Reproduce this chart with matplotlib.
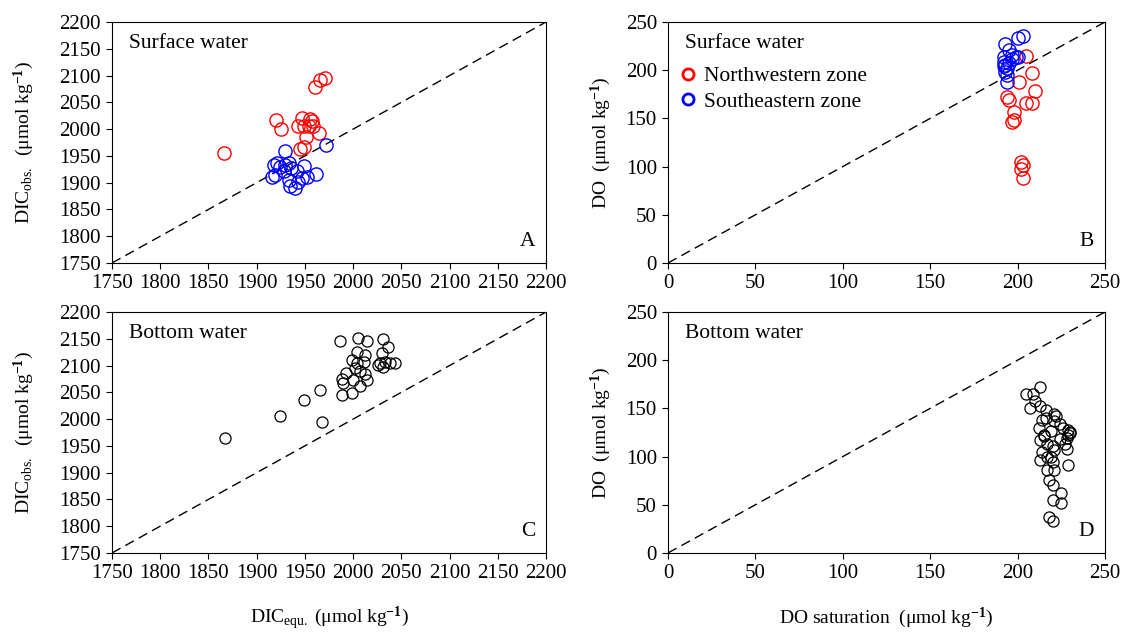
import matplotlib
matplotlib.use("Agg")
import matplotlib.pyplot as plt

plt.rcParams['font.family'] = ['Liberation Serif', 'DejaVu Serif']
plt.rcParams['mathtext.fontset'] = 'custom'
plt.rcParams['mathtext.rm'] = 'Liberation Serif'
plt.rcParams['mathtext.it'] = 'Liberation Serif:italic'
plt.rcParams['mathtext.bf'] = 'Liberation Serif:bold'

# panel A - surface DIC
nw_dic_equ = [1866, 1920, 1925, 1971, 1966, 1960, 1947, 1955, 1957, 1943, 1949, 1954, 1958, 1965, 1951, 1949, 1945]
nw_dic_obs = [1955, 2017, 2000, 2095, 2091, 2079, 2020, 2019, 2016, 2006, 2006, 2006, 2006, 1992, 1985, 1967, 1963]
se_dic_equ = [1929, 1972, 1949, 1961, 1918, 1921, 1924, 1929, 1933, 1919, 1928, 1936, 1942, 1947, 1933, 1935, 1940, 1943, 1916, 1952]
se_dic_obs = [1960, 1971, 1932, 1916, 1933, 1936, 1930, 1933, 1937, 1914, 1921, 1927, 1921, 1908, 1905, 1893, 1890, 1902, 1910, 1911]

# panel B - surface DO
nw_do_sat = [205, 201, 208, 210, 194, 195, 205, 208, 198, 198, 197, 202, 203, 202, 203]
nw_do = [215, 188, 197, 178, 172, 169, 166, 166, 157, 148, 146, 105, 102, 98, 88]
se_do_sat = [193, 200, 203, 195, 192, 197, 199, 200, 192, 193, 194, 192, 195, 193, 194, 194, 197]
se_do = [227, 233, 235, 221, 214, 216, 214, 214, 209, 205, 202, 204, 207, 198, 195, 188, 212]

# panel C - bottom DIC
bot_dic_equ = [1867, 1924, 1949, 1966, 1968, 1986, 2005, 2014, 2031, 2036, 2004, 2012, 2030, 1999, 2004,
               2011, 2028, 2033, 2038, 2043, 2026, 2031, 2002, 1993, 2007, 2012, 1988, 2000, 2014, 1990,
               2007, 1999, 1988]
bot_dic_obs = [1964, 2006, 2036, 2054, 1995, 2145, 2152, 2145, 2150, 2135, 2126, 2120, 2123, 2110, 2105,
               2107, 2104, 2107, 2105, 2105, 2101, 2098, 2095, 2086, 2089, 2084, 2074, 2073, 2073, 2067,
               2061, 2049, 2045]

# panel D - bottom DO
bot_do_sat = [213, 209, 205, 207, 213, 216, 221, 214, 221, 224, 219, 215, 213, 217, 229, 230, 230, 229, 228,
              227, 228, 220, 221, 214, 213, 217, 220, 221, 229, 217, 218, 220, 225, 225, 220, 218, 220, 212,
              216, 222, 226, 210, 215, 224, 219]
bot_do = [172, 165, 165, 150, 152, 148, 144, 138, 137, 134, 127, 121, 117, 113, 128, 126, 124, 122, 119,
          113, 108, 111, 107, 105, 96, 100, 94, 86, 91, 86, 76, 70, 62, 52, 55, 37, 33, 130, 140, 142,
          130, 158, 122, 118, 100]

fig = plt.figure(figsize=(11.21, 6.34), dpi=100)
axA = fig.add_axes([0.0999, 0.5852, 0.3872, 0.3801])
axB = fig.add_axes([0.5959, 0.5852, 0.3898, 0.3801])
axC = fig.add_axes([0.0999, 0.1278, 0.3872, 0.3801])
axD = fig.add_axes([0.5959, 0.1278, 0.3898, 0.3801])

fs = 15.5
tick_fs = 15
lab_fs = 14
ylab_dic = r'DIC$_{\mathrm{obs.}}$  ($\mathrm{\mu}$mol kg$^{\mathbf{-1}}$)'
ylab_do = r'DO  ($\mathrm{\mu}$mol kg$^{\mathbf{-1}}$)'

def style(ax, lo, hi, step):
    ax.plot([lo, hi], [lo, hi], color='black', lw=1, dashes=(7, 4))
    ax.set_xlim(lo, hi)
    ax.set_ylim(lo, hi)
    ax.set_xticks(range(lo, hi + 1, step))
    ax.set_yticks(range(lo, hi + 1, step))
    ax.tick_params(direction='out', length=4, pad=4, labelsize=tick_fs, top=False, right=False)
    for s in ax.spines.values():
        s.set_linewidth(0.8)

for ax in (axA, axC):
    style(ax, 1750, 2200, 50)
    ax.set_ylabel(ylab_dic, fontsize=lab_fs, labelpad=17)
for ax in (axB, axD):
    style(ax, 0, 250, 50)
    ax.set_ylabel(ylab_do, fontsize=lab_fs, labelpad=9)

axA.plot(nw_dic_equ, nw_dic_obs, 'o', mfc='none', mec='red', ms=9.5, mew=1)
axA.plot(se_dic_equ, se_dic_obs, 'o', mfc='none', mec='blue', ms=9.5, mew=1)
axB.plot(nw_do_sat, nw_do, 'o', mfc='none', mec='red', ms=9.5, mew=1, label='Northwestern zone')
axB.plot(se_do_sat, se_do, 'o', mfc='none', mec='blue', ms=9.5, mew=1, label='Southeastern zone')
axC.plot(bot_dic_equ, bot_dic_obs, 'o', mfc='none', mec='black', ms=8, mew=0.9)
axD.plot(bot_do_sat, bot_do, 'o', mfc='none', mec='black', ms=8, mew=0.9)

leg = axB.legend(loc='upper left', bbox_to_anchor=(0.0, 0.87), frameon=False, fontsize=fs,
                 handlelength=0.7, handletextpad=0.35, labelspacing=0.25, borderaxespad=0.2)
for h in leg.legend_handles:
    h.set_markeredgewidth(2)
    h.set_markersize(8)

for ax, title, letter in ((axA, 'Surface water', 'A'), (axB, 'Surface water', 'B'),
                          (axC, 'Bottom water', 'C'), (axD, 'Bottom water', 'D')):
    ax.text(0.04, 0.91, title, transform=ax.transAxes, fontsize=fs, va='center', ha='left')
    ax.text(0.975, 0.09, letter, transform=ax.transAxes, fontsize=fs, va='center', ha='right')

axC.set_xlabel(r'DIC$_{\mathrm{equ.}}$ ($\mathrm{\mu}$mol kg$^{\mathbf{-1}}$)', fontsize=lab_fs, labelpad=16)
axD.set_xlabel(r'DO saturation  ($\mathrm{\mu}$mol kg$^{\mathbf{-1}}$)', fontsize=lab_fs, labelpad=16)

fig.savefig('out.png', dpi=100)
